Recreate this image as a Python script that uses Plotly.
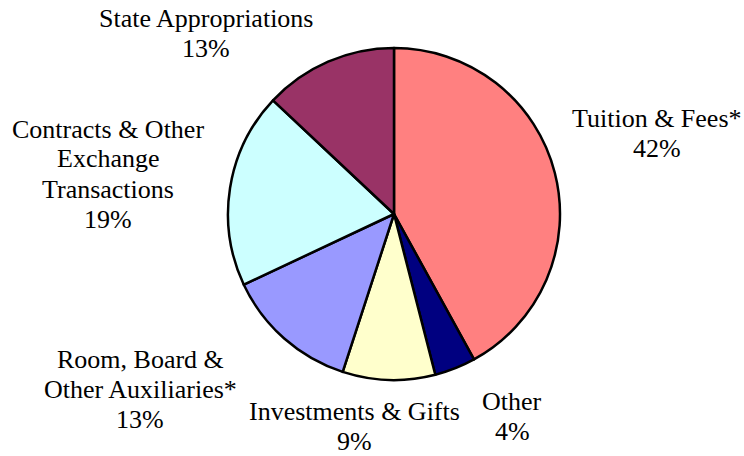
"""Revenue sources pie chart"""
import plotly.graph_objects as go

# Slices in clockwise order starting at 12 o'clock
categories = [
    'Tuition & Fees*',
    'Other',
    'Investments & Gifts',
    'Room, Board &<br>Other Auxiliaries*',
    'Contracts & Other<br>Exchange<br>Transactions',
    'State Appropriations',
]
shares = [42, 4, 9, 13, 19, 13]

colors = ['#FF8080', '#000080', '#FFFFCC', '#9999FF', '#CCFFFF', '#993366']

W, H = 744, 456
FONT = dict(family='Liberation Serif, Times New Roman, serif', size=26, color='black')
LINE_H = 30  # tighter than plotly's default line spacing

# label block centres in pixels (layout only)
label_px = [(657, 134), (512, 416), (354, 426), (140, 389), (108, 174), (206, 33)]

fig = go.Figure(data=[
    go.Pie(
        labels=categories,
        values=shares,
        sort=False,
        direction='clockwise',
        rotation=0,
        marker=dict(colors=colors, line=dict(color='black', width=2.5)),
        textinfo='none',
        hoverinfo='label+percent',
        domain=dict(x=[228 / W, 560 / W], y=[(H - 380) / H, (H - 48) / H]),
        showlegend=False,
    )
])

for cat, val, (px, py) in zip(categories, shares, label_px):
    lines = cat.split('<br>') + [f'{val}%']
    top = py - (len(lines) - 1) * LINE_H / 2
    for i, line in enumerate(lines):
        fig.add_annotation(
            x=px / W, y=1 - (top + i * LINE_H) / H,
            xref='paper', yref='paper',
            xanchor='center', yanchor='middle',
            text=line,
            showarrow=False,
            font=FONT,
        )

fig.update_layout(
    width=W,
    height=H,
    margin=dict(l=0, r=0, t=0, b=0),
    paper_bgcolor='white',
    plot_bgcolor='white',
    showlegend=False,
)

fig.write_html(
    "out.html",
    config={'displayModeBar': False},
    post_script="document.body.style.margin='0';",
)
